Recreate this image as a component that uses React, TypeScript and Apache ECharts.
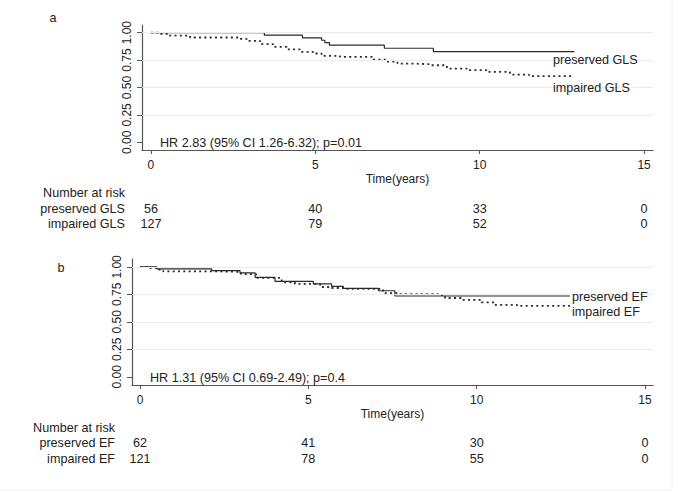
import React, { useEffect, useRef } from "react";
import * as echarts from "echarts";

// ---- data ----
const xTicks = [0, 5, 10, 15];
const yTicks = [0, 0.25, 0.5, 0.75, 1];
const gridYValues = [0.25, 0.5, 0.75, 1];

// Kaplan-Meier step points [time (years), survival]
const glsPreserved: [number, number][] = [
  [0, 1.0], [3.45, 0.977], [4.61, 0.953], [5.19, 0.931], [5.29, 0.91],
  [5.43, 0.886], [7.1, 0.858], [8.59, 0.828], [12.88, 0.828],
];
const glsImpaired: [number, number][] = [
  [0, 1.0], [0.27, 0.99], [0.58, 0.974], [1.19, 0.956], [2.7, 0.944],
  [2.91, 0.925], [3.32, 0.895], [3.72, 0.87], [4.13, 0.847], [4.53, 0.825],
  [4.93, 0.81], [5.19, 0.788], [5.75, 0.779], [6.76, 0.755], [7.17, 0.737],
  [7.5, 0.718], [8.0, 0.712], [8.49, 0.703], [9.0, 0.673], [9.6, 0.658],
  [10.2, 0.642], [10.92, 0.618], [11.5, 0.603], [12.88, 0.603],
];
const efPreserved: [number, number][] = [
  [0, 1.0], [0.5, 0.982], [2.13, 0.966], [2.97, 0.945], [3.42, 0.905],
  [4.01, 0.868], [5.15, 0.845], [5.69, 0.823], [6.04, 0.804], [7.08, 0.783],
  [7.57, 0.735], [12.77, 0.735],
];
const efImpaired: [number, number][] = [
  [0, 1.0], [0.3, 0.99], [0.54, 0.976], [0.69, 0.96], [2.18, 0.955],
  [3.0, 0.935], [3.45, 0.9], [4.21, 0.86], [4.6, 0.845], [5.35, 0.817],
  [5.6, 0.808], [6.1, 0.8], [7.22, 0.762], [7.67, 0.753], [8.85, 0.744],
  [9.06, 0.717], [9.55, 0.7], [10.15, 0.677], [10.54, 0.655], [11.2, 0.646],
  [12.77, 0.646],
];

const panelLabels = ["a", "b"];
const hrTexts = [
  "HR 2.83 (95% CI 1.26-6.32); p=0.01",
  "HR 1.31 (95% CI 0.69-2.49); p=0.4",
];
const groupNamesA = ["preserved GLS", "impaired GLS"];
const groupNamesB = ["preserved EF", "impaired EF"];
const riskHeader = "Number at risk";
const axisTitle = "Time(years)";
const riskTimes = [0, 5, 10, 15];
const riskGlsPreserved = [56, 40, 33, 0];
const riskGlsImpaired = [127, 79, 52, 0];
const riskEfPreserved = [62, 41, 30, 0];
const riskEfImpaired = [121, 78, 55, 0];

export default function App() {
  const ref = useRef<HTMLDivElement>(null);
  useEffect(() => {
    document.body.style.margin = "0";
    const chart = echarts.init(ref.current!, null, { renderer: "svg" });
    const font = "'Liberation Sans', Arial, Helvetica, sans-serif";
    const textColor = "#222";
    const axisColor = "#555";
    const lineColor = "#2a2a2a";
    const gridColor = "#e6ecf0";

    const panels = [
      { left: 142, top: 25, width: 511, height: 125, xMin: -0.27, xMax: 15.27, yMin: -0.07, yMax: 1.07 },
      { left: 132, top: 259, width: 521, height: 126, xMin: -0.238, xMax: 15.238, yMin: -0.075, yMax: 1.072 },
    ];

    const xAxes = panels.map((p, i) => ({
      type: "value",
      gridIndex: i,
      min: p.xMin,
      max: p.xMax,
      axisLine: { onZero: false, lineStyle: { color: axisColor, width: 1.2 } },
      axisTick: { customValues: xTicks, length: 4, lineStyle: { color: axisColor } },
      axisLabel: { customValues: xTicks, margin: 9, fontSize: 12, color: textColor, fontFamily: font },
      splitLine: { show: false },
      name: axisTitle,
      nameLocation: "middle",
      nameGap: 23,
      nameTextStyle: { fontSize: 12, color: textColor, fontFamily: font },
    }));
    const yAxes = panels.map((p, i) => ({
      type: "value",
      gridIndex: i,
      min: p.yMin,
      max: p.yMax,
      axisLine: { show: true, onZero: false, lineStyle: { color: axisColor, width: 1.2 } },
      axisTick: { show: true, customValues: yTicks, length: 5, lineStyle: { color: axisColor } },
      axisLabel: {
        customValues: yTicks,
        rotate: 90,
        margin: 9,
        fontSize: 12,
        color: textColor,
        fontFamily: font,
        formatter: (v: number) => v.toFixed(2),
      },
      splitLine: { show: false },
    }));

    const gridMark = {
      silent: true,
      symbol: ["none", "none"],
      label: { show: false },
      lineStyle: { color: gridColor, width: 1, type: "solid" },
      data: gridYValues.map((v) => ({ yAxis: v })),
    };

    const solid = { color: lineColor, width: 1.2, type: "solid" };
    const dotted = { color: lineColor, width: 1.8, type: [2, 3.3] };

    const mk = (name: string, data: [number, number][], idx: number, style: any, withGrid: boolean) => ({
      type: "line",
      name,
      xAxisIndex: idx,
      yAxisIndex: idx,
      data,
      step: "end",
      showSymbol: false,
      symbol: "none",
      lineStyle: style,
      z: withGrid ? 3 : 4,
      markLine: withGrid ? gridMark : undefined,
    });

    chart.setOption({
      animation: false,
      backgroundColor: "#fff",
      textStyle: { fontFamily: font },
      grid: panels.map((p) => ({ left: p.left, top: p.top, width: p.width, height: p.height, containLabel: false })),
      xAxis: xAxes,
      yAxis: yAxes,
      series: [
        mk(groupNamesA[0], glsPreserved, 0, solid, true),
        mk(groupNamesA[1], glsImpaired, 0, dotted, false),
        mk(groupNamesB[0], efPreserved, 1, solid, true),
        mk(groupNamesB[1], efImpaired, 1, dotted, false),
      ],
    });

    const txt = (text: string, x: number, y: number, align: string = "left", size = 12.6) => ({
      type: "text",
      x,
      y,
      z: 100,
      silent: true,
      style: { text, fill: textColor, font: `${size}px ${font}`, align, verticalAlign: "middle" },
    });

    const riskRows = [
      { idx: 0, labelRight: 125, headerY: 193, rows: [
        { name: groupNamesA[0], vals: riskGlsPreserved, y: 209 },
        { name: groupNamesA[1], vals: riskGlsImpaired, y: 224 },
      ] },
      { idx: 1, labelRight: 115, headerY: 428, rows: [
        { name: groupNamesB[0], vals: riskEfPreserved, y: 443 },
        { name: groupNamesB[1], vals: riskEfImpaired, y: 459 },
      ] },
    ];

    const elements: any[] = [];
    riskRows.forEach((r) => {
      elements.push(txt(riskHeader, r.labelRight, r.headerY, "right"));
      r.rows.forEach((row) => {
        elements.push(txt(row.name, r.labelRight, row.y, "right"));
        row.vals.forEach((v, k) => {
          const px = chart.convertToPixel({ gridIndex: r.idx } as any, [riskTimes[k], 0]) as number[];
          elements.push(txt(String(v), px[0], row.y, "center"));
        });
      });
    });

    elements.push(txt(panelLabels[0], 53, 18, "center"));
    elements.push(txt(panelLabels[1], 61, 268, "center"));
    elements.push(txt(hrTexts[0], 160, 143));
    elements.push(txt(hrTexts[1], 150, 377.5));
    elements.push(txt(groupNamesA[0], 553, 60));
    elements.push(txt(groupNamesA[1], 553, 88));
    elements.push(txt(groupNamesB[0], 572, 297));
    elements.push(txt(groupNamesB[1], 572, 312));
    elements.push({ type: "line", silent: true, shape: { x1: 672, y1: 0, x2: 672, y2: 490 }, style: { stroke: "#f0f0f0", lineWidth: 1 } });
    elements.push({ type: "line", silent: true, shape: { x1: 0, y1: 490, x2: 672, y2: 490 }, style: { stroke: "#f0f0f0", lineWidth: 1 } });

    chart.setOption({ graphic: elements });

    return () => chart.dispose();
  }, []);
  return <div ref={ref} style={{ width: 678, height: 493 }} />;
}
